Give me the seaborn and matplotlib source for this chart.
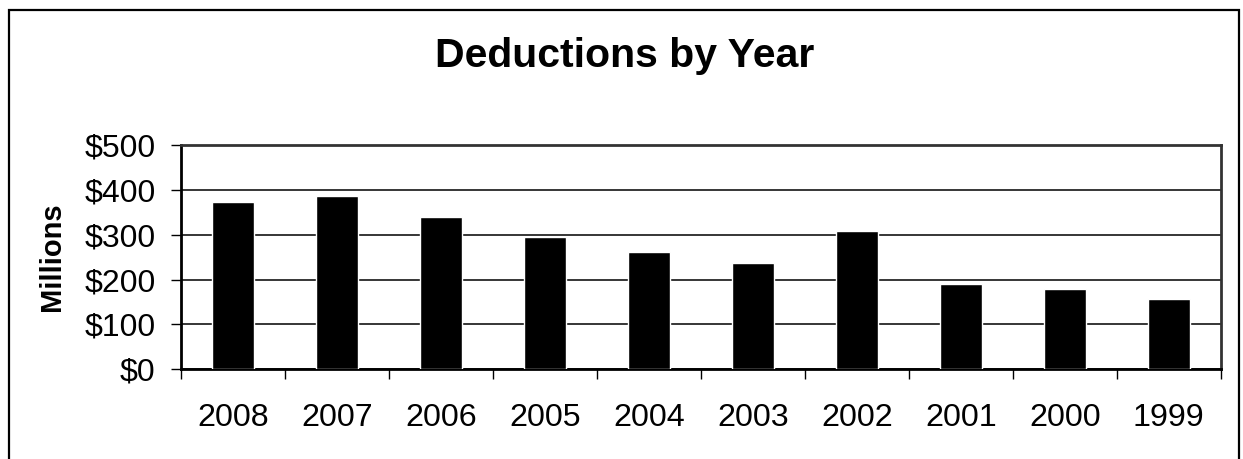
import matplotlib
matplotlib.use("Agg")
import matplotlib.pyplot as plt
import seaborn as sns
import pandas as pd
from matplotlib.patches import Rectangle
from matplotlib.ticker import FixedLocator, FuncFormatter

years = ["2008", "2007", "2006", "2005", "2004", "2003", "2002", "2001", "2000", "1999"]
deductions = [373, 386, 340, 295, 261, 237, 308, 190, 179, 157]
yticks = [0, 100, 200, 300, 400, 500]
title = "Deductions by Year"
ylabel = "Millions"

sns.set_theme(style="white")
plt.rcParams["font.family"] = ["Liberation Sans", "DejaVu Sans"]

W, H = 1243, 459
fig = plt.figure(figsize=(W / 100, H / 100), dpi=100)
ax = fig.add_axes([181 / W, 1 - 369.3 / H, (1220.7 - 181) / W, (369.3 - 145) / H])

df = pd.DataFrame({"year": years, "value": deductions})
sns.barplot(data=df, x="year", y="value", order=years, color="black",
            saturation=1, width=0.4, ax=ax, zorder=3)

ax.set_ylim(0, 500)
ax.set_xlim(-0.5, len(years) - 0.5)
ax.set_yticks(yticks)
ax.yaxis.set_major_formatter(FuncFormatter(lambda v, p: f"${v:.0f}"))
ax.grid(axis="y", color="black", linewidth=1.1, zorder=0)
ax.set_axisbelow(True)

# x: labels at centers, tick marks at boundaries
ax.tick_params(axis="x", which="major", length=0, pad=24.5, labelsize=23.2, colors="black")
ax.xaxis.set_minor_locator(FixedLocator([i - 0.5 for i in range(len(years) + 1)]))
ax.tick_params(axis="x", which="minor", bottom=True, direction="out", length=7.2, width=1.0, color="black")
ax.tick_params(axis="y", which="major", left=True, direction="out", length=7.2, width=1.0,
               pad=11, labelsize=23, colors="black")
ax.set_xlabel("")
ax.set_ylabel("")

for s in ["left", "bottom"]:
    ax.spines[s].set_color("black")
    ax.spines[s].set_linewidth(2.0)
for s in ["top", "right"]:
    ax.spines[s].set_color("#333333")
    ax.spines[s].set_linewidth(2.0)
    ax.spines[s].set_visible(True)

fig.text(625 / W, 1 - 67 / H, title, ha="center", va="baseline",
         fontsize=29.5, fontweight="bold", color="black")
fig.text(52 / W, 1 - 257 / H, ylabel, ha="center", va="center", rotation=90,
         fontsize=21, fontweight="bold", color="black")

fig.patches.append(Rectangle((8.5 / W, -0.1), (1239 - 8.5) / W, 1.1 - 10.5 / H,
                             transform=fig.transFigure, fill=False,
                             edgecolor="black", linewidth=1.6))

fig.savefig("out.png", dpi=100, facecolor="white")
